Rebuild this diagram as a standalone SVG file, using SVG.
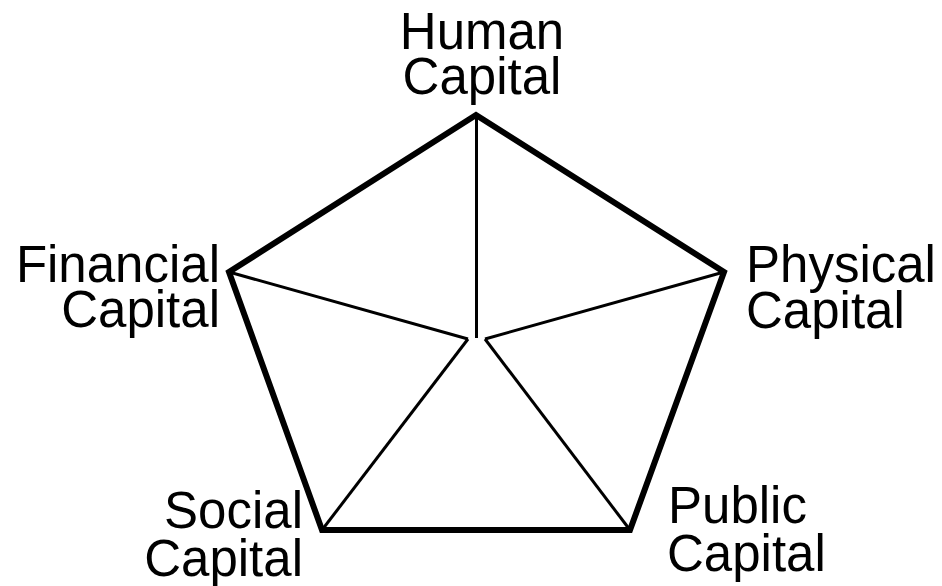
<svg xmlns="http://www.w3.org/2000/svg" width="942" height="586" viewBox="0 0 942 586">
<style>
.lbl{font-family:"Liberation Sans",Arial,sans-serif;font-size:51px;fill:#000}
.edge{fill:none;stroke:#000;stroke-width:6;stroke-linejoin:miter}
.spoke{stroke:#000;stroke-width:3;fill:none}
</style>
<rect width="942" height="586" fill="#fff"/>
<g id="connectors">
<polygon class="edge" points="476,115 724,272 630,530 322,530 229,272"/>
<line class="spoke" x1="476.5" y1="115" x2="476.5" y2="338"/>
<line class="spoke" x1="229" y1="272" x2="468" y2="339"/>
<line class="spoke" x1="724" y1="272" x2="485" y2="339"/>
<line class="spoke" x1="322" y1="530" x2="468" y2="339"/>
<line class="spoke" x1="630" y1="530" x2="485" y2="339"/>
</g>
<g id="human"><text class="lbl" text-anchor="middle"><tspan x="482" y="49">Human</tspan><tspan x="482" y="94">Capital</tspan></text></g>
<g id="physical"><text class="lbl"><tspan x="746" y="282">Physical</tspan><tspan x="746" y="328">Capital</tspan></text></g>
<g id="financial"><text class="lbl" text-anchor="end"><tspan x="220" y="282">Financial</tspan><tspan x="220" y="327">Capital</tspan></text></g>
<g id="social"><text class="lbl" text-anchor="end"><tspan x="303" y="528">Social</tspan><tspan x="303" y="576">Capital</tspan></text></g>
<g id="public"><text class="lbl"><tspan x="668" y="523">Public</tspan><tspan x="667" y="571">Capital</tspan></text></g>
</svg>
